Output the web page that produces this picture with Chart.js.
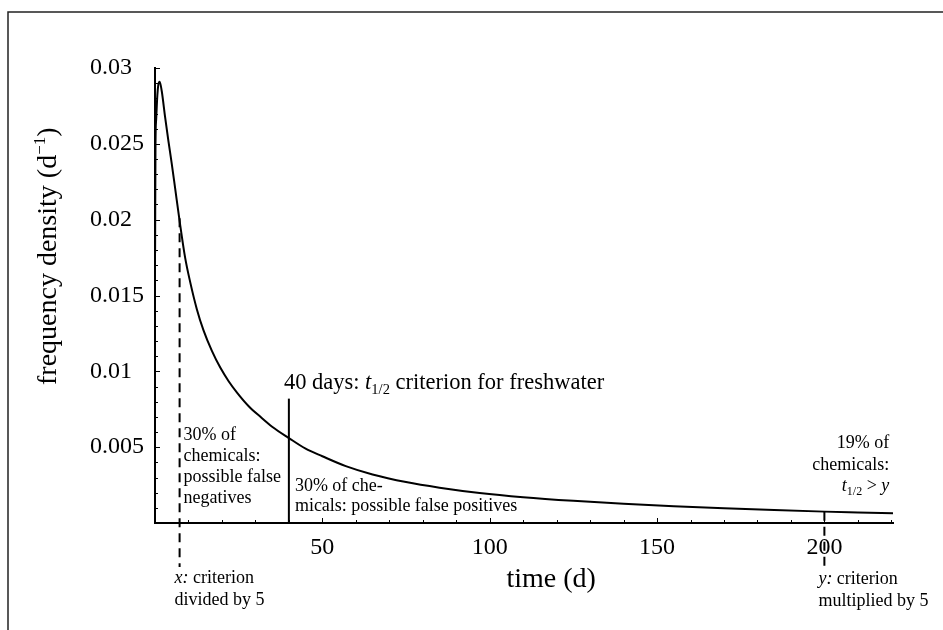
<!DOCTYPE html>
<html>
<head>
<meta charset="utf-8">
<script src="https://cdn.jsdelivr.net/npm/chart.js@4.4.1/dist/chart.umd.min.js"></script>
<style>
  html, body { margin: 0; padding: 0; background: #fff; }
  #wrap { width: 943px; height: 630px; }
</style>
</head>
<body>
<div id="wrap"><canvas id="myChart" width="943" height="630"></canvas></div>
<script>
// curve (time in days, frequency density per day)
const timeDays = [0.03, 0.15, 0.35, 0.7, 1.0, 1.4, 2.0, 3.0, 4.0, 5.0, 6.0, 7.3, 9.0, 10.5, 12.5, 14.5, 17, 19.5, 22, 24.5, 28, 31.5, 35, 40, 45, 50, 57, 65, 75, 85, 97, 110, 125, 140, 155, 170, 185, 200, 210, 220.5];
const density = [0.0178, 0.0250, 0.0266, 0.0282, 0.0289, 0.0291, 0.0285, 0.0268, 0.0252, 0.0237, 0.0221, 0.0200, 0.0175, 0.0159, 0.0141, 0.0127, 0.01135, 0.01025, 0.00935, 0.0086, 0.0077, 0.0070, 0.00635, 0.0056, 0.0049, 0.0044, 0.00375, 0.0032, 0.0027, 0.00233, 0.00198, 0.0017, 0.00146, 0.00127, 0.00111, 0.00097, 0.00085, 0.00075, 0.0007, 0.00065];

// marker lines
const criterionX = [40, 40];
const criterionY = [0, 0.0082];
const lowCutX = [7.35, 7.35];
const lowCutY = [0.0201, -0.0029];
const highCutX = [200, 200];
const highCutY = [0.00075, -0.0029];

// tick labels
const xTickLabels = [50, 100, 150, 200];
const yTickLabels = [0.005, 0.01, 0.015, 0.02, 0.025, 0.03];

const serif = '"Liberation Serif", "DejaVu Serif", serif';

function toPoints(xs, ys) {
  return xs.map((x, i) => ({ x: x, y: ys[i] }));
}

// draw a line of text made of several font runs (italic, subscript...)
function drawRuns(ctx, runs, x, y, align) {
  let total = 0;
  runs.forEach(r => { ctx.font = r.font; total += ctx.measureText(r.text).width; });
  let cx = align === 'right' ? x - total : x;
  runs.forEach(r => {
    ctx.font = r.font;
    ctx.fillText(r.text, cx, y + (r.dy || 0));
    cx += ctx.measureText(r.text).width;
  });
}

const n18 = '18px ' + serif, i18 = 'italic 18px ' + serif, s12 = '12px ' + serif;

const overlay = {
  id: 'overlay',
  beforeDraw(chart) {
    const c = chart.ctx;
    c.save();
    c.strokeStyle = '#222';
    c.lineWidth = 1.5;
    c.beginPath();
    c.moveTo(8, 630);
    c.lineTo(8, 12);
    c.lineTo(943, 12);
    c.stroke();
    c.restore();
  },
  afterDraw(chart) {
    const c = chart.ctx;
    const xs = chart.scales.x, ys = chart.scales.y;
    const area = chart.chartArea;
    c.save();
    // inward ticks
    c.strokeStyle = '#000';
    c.lineWidth = 1;
    c.beginPath();
    for (let t = 10; t <= 220; t += 10) {
      const px = Math.round(xs.getPixelForValue(t)) + 0.5;
      const len = t % 50 === 0 ? 5 : 3;
      c.moveTo(px, area.bottom);
      c.lineTo(px, area.bottom - len);
    }
    for (let k = 1; k <= 30; k++) {
      const py = Math.round(ys.getPixelForValue(k / 1000)) + 0.5;
      const len = k % 5 === 0 ? 5 : 3;
      c.moveTo(area.left, py);
      c.lineTo(area.left + len, py);
    }
    c.stroke();

    c.fillStyle = '#000';
    c.textBaseline = 'alphabetic';
    c.textAlign = 'left';

    // axis titles
    c.font = '28px ' + serif;
    c.fillText('time (d)', xs.getPixelForValue(105), 587);
    c.save();
    c.translate(56, 385);
    c.rotate(-Math.PI / 2);
    drawRuns(c, [
      { text: 'frequency density (d', font: '28px ' + serif },
      { text: '\u22121', font: '17px ' + serif, dy: -11 },
      { text: ')', font: '28px ' + serif }
    ], 0, 0, 'left');
    c.restore();

    // 40 day criterion
    const x40 = xs.getPixelForValue(40);
    drawRuns(c, [
      { text: '40 days: ', font: '22.5px ' + serif },
      { text: 't', font: 'italic 22.5px ' + serif },
      { text: '1/2', font: '14.5px ' + serif, dy: 5 },
      { text: ' criterion for freshwater', font: '22.5px ' + serif }
    ], x40 - 5, 389, 'left');

    // left band
    const xl = xs.getPixelForValue(lowCutX[0]) + 4;
    c.font = n18;
    c.fillText('30% of', xl, 440);
    c.fillText('chemicals:', xl, 461);
    c.fillText('possible false', xl, 482);
    c.fillText('negatives', xl, 503);

    // middle band
    c.fillText('30% of che-', x40 + 6, 491);
    c.fillText('micals: possible false positives', x40 + 6, 511);

    // right band
    const xr = xs.getPixelForValue(220);
    drawRuns(c, [{ text: '19% of', font: n18 }], xr - 2, 448, 'right');
    drawRuns(c, [{ text: 'chemicals:', font: n18 }], xr - 2, 470, 'right');
    drawRuns(c, [
      { text: 't', font: i18 },
      { text: '1/2', font: s12, dy: 4 },
      { text: ' > ', font: n18 },
      { text: 'y', font: i18 }
    ], xr - 2, 491, 'right');

    // criterion notes under the axis
    drawRuns(c, [{ text: 'x:', font: i18 }, { text: ' criterion', font: n18 }], xl - 9, 583, 'left');
    drawRuns(c, [{ text: 'divided by 5', font: n18 }], xl - 9, 605, 'left');
    const x200 = xs.getPixelForValue(200);
    drawRuns(c, [{ text: 'y:', font: i18 }, { text: ' criterion', font: n18 }], x200 - 6, 584, 'left');
    drawRuns(c, [{ text: 'multiplied by 5', font: n18 }], x200 - 6, 606, 'left');
    c.restore();
  }
};

const ctx = document.getElementById('myChart');
new Chart(ctx, {
  type: 'scatter',
  data: {
    datasets: [
      {
        data: toPoints(timeDays, density),
        showLine: true,
        borderColor: '#000',
        borderWidth: 2,
        pointRadius: 0,
        cubicInterpolationMode: 'monotone'
      },
      {
        data: toPoints(criterionX, criterionY),
        showLine: true,
        borderColor: '#000',
        borderWidth: 2,
        pointRadius: 0
      },
      {
        data: toPoints(lowCutX, lowCutY),
        showLine: true,
        borderColor: '#000',
        borderWidth: 2,
        borderDash: [9, 6],
        pointRadius: 0,
        clip: false
      },
      {
        data: toPoints(highCutX, highCutY),
        showLine: true,
        borderColor: '#000',
        borderWidth: 2,
        borderDash: [9, 6],
        pointRadius: 0,
        clip: false
      }
    ]
  },
  options: {
    responsive: false,
    animation: false,
    layout: { padding: { left: 90, top: 68, right: 50, bottom: 0 } },
    plugins: {
      legend: { display: false },
      tooltip: { enabled: false }
    },
    scales: {
      x: {
        type: 'linear',
        min: 0,
        max: 220.5,
        afterFit: s => { s.height = 107; },
        grid: { drawOnChartArea: false, drawTicks: false },
        border: { display: true, color: '#000', width: 2 },
        ticks: {
          stepSize: 10,
          includeBounds: false,
          autoSkip: false,
          maxRotation: 0,
          padding: 10,
          color: '#000',
          font: { family: serif, size: 24 },
          callback: v => xTickLabels.includes(v) ? String(v) : ''
        }
      },
      y: {
        min: 0,
        max: 0.03,
        afterFit: s => { s.width = 65; },
        grid: { drawOnChartArea: false, drawTicks: false },
        border: { display: true, color: '#000', width: 2 },
        ticks: {
          stepSize: 0.005,
          crossAlign: 'far',
          color: '#000',
          font: { family: serif, size: 24 },
          callback: v => yTickLabels.some(t => Math.abs(t - v) < 1e-9) ? String(+v.toFixed(3)) : ''
        }
      }
    }
  },
  plugins: [overlay]
});
</script>
</body>
</html>
